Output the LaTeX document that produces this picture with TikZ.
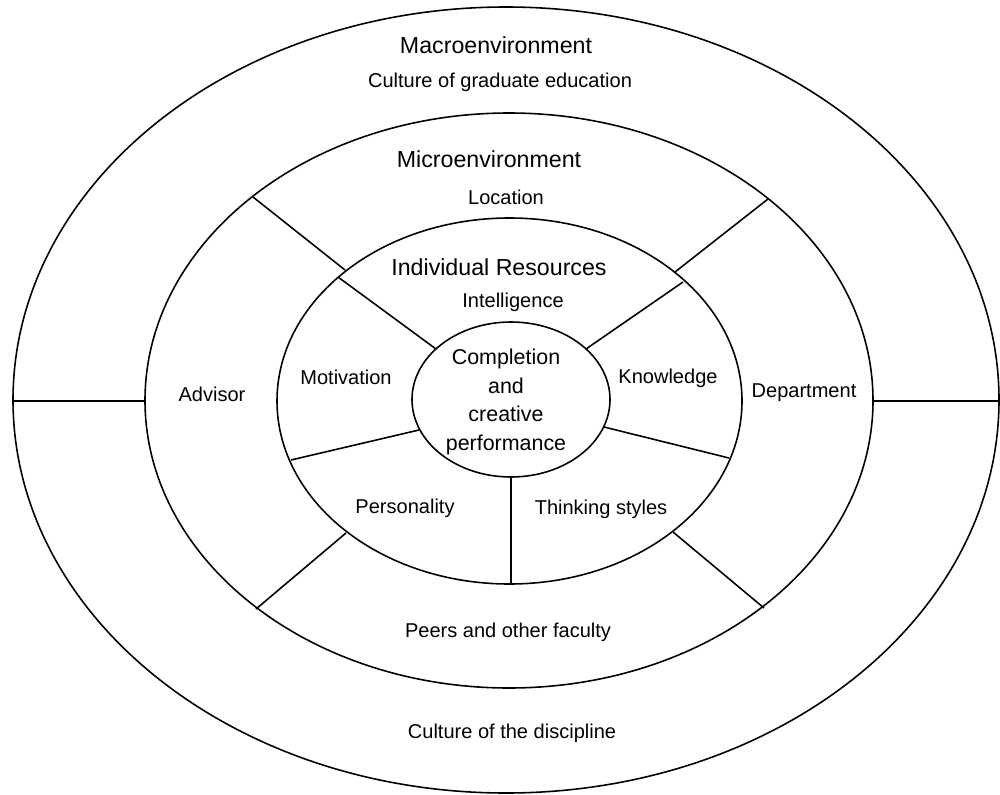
\documentclass[tikz,border=0pt]{standalone}
\usepackage{fontspec}
\setmainfont{Liberation Sans}
\begin{document}
\begin{tikzpicture}[x=0.02cm,y=-0.02cm,line width=0.9pt,
		big/.style={font=\fontsize{13.2}{16}\selectfont,inner sep=0pt},
		small/.style={font=\fontsize{11.4}{16.3}\selectfont,inner sep=0pt},
		core/.style={font=\fontsize{12.2}{16.3}\selectfont,inner sep=0pt,align=center}]
		\useasboundingbox (0,0) rectangle (1000,794);
		\draw (506,400) ellipse [x radius=493,y radius=393];
		\draw (509,400.5) ellipse [x radius=364,y radius=287.5];
		\draw (509.5,401) ellipse [x radius=232.5,y radius=183];
		\draw (511,399.5) ellipse [x radius=99,y radius=77.5];
		\coordinate (L1) at (13,401);
		\coordinate (L2) at (145,401);
		\coordinate (R1) at (873,401);
		\coordinate (R2) at (999,401);
		\coordinate (UL1) at (253,197);
		\coordinate (UL2) at (345,270);
		\coordinate (UL3) at (338,277);
		\coordinate (UL4) at (436,349);
		\coordinate (UR1) at (768,199);
		\coordinate (UR2) at (675,272);
		\coordinate (UR3) at (683,282);
		\coordinate (UR4) at (586,349);
		\coordinate (LL1) at (256,609);
		\coordinate (LL2) at (346,533);
		\coordinate (LR1) at (764,608);
		\coordinate (LR2) at (673,532);
		\coordinate (IL1) at (291,460);
		\coordinate (IL2) at (419,430);
		\coordinate (IR1) at (604,427);
		\coordinate (IR2) at (729,458);
		\coordinate (V1) at (511,477);
		\coordinate (V2) at (511,584);
		\draw (L1) -- (L2);
		\draw (R1) -- (R2);
		\draw (UL1) -- (UL2);
		\draw (UL3) -- (UL4);
		\draw (UR1) -- (UR2);
		\draw (UR3) -- (UR4);
		\draw (LL1) -- (LL2);
		\draw (LR1) -- (LR2);
		\draw (IL1) -- (IL2);
		\draw (IR1) -- (IR2);
		\draw (V1) -- (V2);
		\node[big] (macro) at (496,45) {Macroenvironment};
		\node[small] (gradcult) at (500,82) {Culture of graduate education};
		\node[big] (micro) at (489,159) {Microenvironment};
		\node[small] (location) at (506,197) {Location};
		\node[big] (indiv) at (499,267) {Individual Resources};
		\node[small] (intel) at (513,302) {Intelligence};
		\node[core] (completion) at (506,402) {Completion\\and\\creative\\performance};
		\node[small] (motiv) at (346,377) {Motivation};
		\node[small] (knowl) at (668,378) {Knowledge};
		\node[small] (advisor) at (212,394) {Advisor};
		\node[small] (dept) at (804,393) {Department};
		\node[small] (person) at (405,508) {Personality};
		\node[small] (think) at (601,509) {Thinking styles};
		\node[small] (peers) at (508,632) {Peers and other faculty};
		\node[small] (disccult) at (512,733) {Culture of the discipline};
	\end{tikzpicture}
\end{document}
